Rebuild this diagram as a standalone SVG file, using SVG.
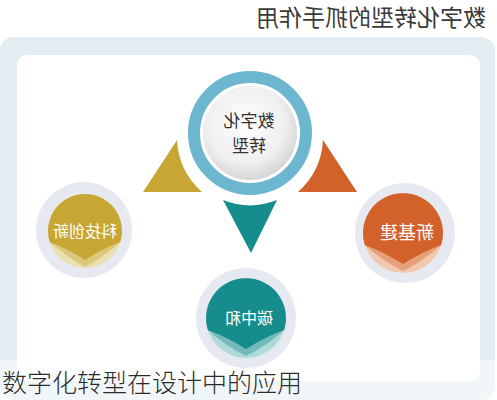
<svg xmlns="http://www.w3.org/2000/svg" width="497" height="400" viewBox="0 0 497 400">
<defs>
<style>
.t{font-family:"Noto Sans CJK SC","Noto Sans",sans-serif;}
.w{fill:#ffffff;}
.halo{fill:#e6eaf0;}
</style>
<radialGradient id="core" cx="0.45" cy="0.4" r="0.6">
<stop offset="0" stop-color="#ffffff"/>
<stop offset="0.7" stop-color="#efefef"/>
<stop offset="1" stop-color="#d6d6d6"/>
</radialGradient>
</defs>
<rect x="0" y="0" width="497" height="400" fill="#ffffff"/>
<rect x="0" y="37" width="495" height="363" rx="14" fill="#e1edf1"/>
<rect x="17" y="55" width="463" height="326" rx="10" fill="#ffffff"/>
<rect x="0" y="360" width="497" height="40" fill="#ffffff" opacity="0.55"/>

<text class="t" transform="translate(371,26) scale(-1,1)" text-anchor="middle" font-size="23" fill="#3a3a3a">数字化转型的抓手作用</text>

<g id="connectors">
<path d="M143 192 L177 140 A75 75 0 0 0 202 192 Z" fill="#c8a633"/>
<path d="M357 192 L323 140 A75 75 0 0 1 298 192 Z" fill="#d2612a"/>
<path d="M223 200 A72 72 0 0 0 277 200 L251 253 Z" fill="#178c8c"/>
</g>

<g id="center">
<circle cx="250" cy="133" r="56" fill="none" stroke="#6cb7cf" stroke-width="12"/>
<circle cx="250" cy="133" r="47" fill="url(#core)"/>
<text class="t" transform="translate(249,127) scale(-1,1)" text-anchor="middle" font-size="17" fill="#333333">数字化</text>
<text class="t" transform="translate(249,152) scale(-1,1)" text-anchor="middle" font-size="17" fill="#333333">转型</text>
</g>

<g id="node-keji">
<circle class="halo" cx="84" cy="230" r="48"/>
<circle cx="85" cy="231" r="37" fill="#ebe0b2"/>
<path d="M49.7 242.1 Q68 258 85 267 Q102 258 120.3 242.1 Z" fill="#dcc77e"/>
<path d="M49.7 242.1 A37 37 0 1 1 120.3 242.1 Q102 249 85 260 Q68 249 49.7 242.1 Z" fill="#c8a633"/>
<text class="t w" transform="translate(85,237) scale(-1,1)" text-anchor="middle" font-size="16">科技创新</text>
</g>

<g id="node-xinjijian">
<circle class="halo" cx="405" cy="233" r="50"/>
<circle cx="403" cy="233" r="40" fill="#f2c9ae"/>
<path d="M364.8 245 Q384 262 403 271 Q422 262 441.2 245 Z" fill="#e6a07a"/>
<path d="M364.8 245 A40 40 0 1 1 441.2 245 Q422 252 403 264 Q384 252 364.8 245 Z" fill="#d2612a"/>
<text class="t w" transform="translate(407,239) scale(-1,1)" text-anchor="middle" font-size="18">新基建</text>
</g>

<g id="node-tanzhonghe">
<circle class="halo" cx="246" cy="318" r="50"/>
<circle cx="246" cy="318" r="40" fill="#b0dada"/>
<path d="M207.8 330 Q227 347 246 356 Q265 347 284.2 330 Z" fill="#74baba"/>
<path d="M207.8 330 A40 40 0 1 1 284.2 330 Q265 337 246 349 Q227 337 207.8 330 Z" fill="#178c8c"/>
<text class="t w" transform="translate(249,324) scale(-1,1)" text-anchor="middle" font-size="16">碳中和</text>
</g>

<text class="t" x="2" y="392" font-size="25" fill="#2b2b2b" font-weight="300">数字化转型在设计中的应用</text>
</svg>
